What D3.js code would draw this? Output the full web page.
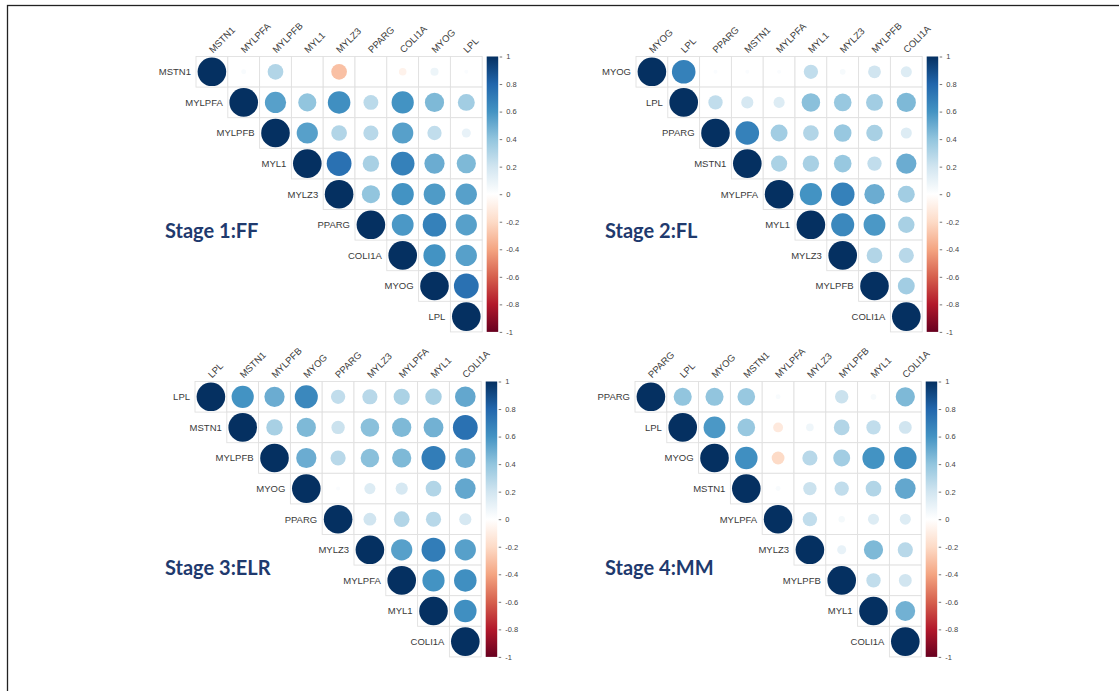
<!DOCTYPE html>
<html>
<head>
<meta charset="utf-8">
<script src="https://cdn.jsdelivr.net/npm/d3@7"></script>
<style>
  html, body { margin: 0; padding: 0; background: #ffffff; }
  svg { display: block; }
</style>
</head>
<body>
<svg id="chart" width="1119" height="691"></svg>
<script>
// Gene orders per stage (hierarchical-clustering order of each corrplot)
const stage1Genes = ["MSTN1", "MYLPFA", "MYLPFB", "MYL1", "MYLZ3", "PPARG", "COLI1A", "MYOG", "LPL"];
const stage2Genes = ["MYOG", "LPL", "PPARG", "MSTN1", "MYLPFA", "MYL1", "MYLZ3", "MYLPFB", "COLI1A"];
const stage3Genes = ["LPL", "MSTN1", "MYLPFB", "MYOG", "PPARG", "MYLZ3", "MYLPFA", "MYL1", "COLI1A"];
const stage4Genes = ["PPARG", "LPL", "MYOG", "MSTN1", "MYLPFA", "MYLZ3", "MYLPFB", "MYL1", "COLI1A"];

// Upper-triangle correlation rows: row i lists r(i, j) for j = i .. 8
const stage1Corr = [
  [1, 0.03, 0.30, 0.00, -0.30, 0.00, -0.07, 0.08, 0.02],
  [1, 0.55, 0.40, 0.62, 0.27, 0.60, 0.45, 0.35],
  [1, 0.55, 0.30, 0.28, 0.55, 0.25, 0.10],
  [1, 0.75, 0.33, 0.68, 0.50, 0.45],
  [1, 0.40, 0.60, 0.57, 0.55],
  [1, 0.58, 0.68, 0.55],
  [1, 0.60, 0.55],
  [1, 0.75],
  [1]
];
const stage2Corr = [
  [1, 0.68, 0.02, 0.02, 0.02, 0.25, 0.04, 0.20, 0.15],
  [1, 0.25, 0.18, 0.15, 0.42, 0.38, 0.35, 0.45],
  [1, 0.68, 0.35, 0.30, 0.38, 0.33, 0.15],
  [1, 0.32, 0.33, 0.38, 0.25, 0.50],
  [1, 0.60, 0.68, 0.50, 0.35],
  [1, 0.65, 0.58, 0.33],
  [1, 0.30, 0.28],
  [1, 0.35],
  [1]
];
const stage3Corr = [
  [1, 0.60, 0.50, 0.65, 0.25, 0.28, 0.32, 0.33, 0.52],
  [1, 0.33, 0.45, 0.22, 0.42, 0.45, 0.48, 0.75],
  [1, 0.50, 0.28, 0.42, 0.45, 0.70, 0.50],
  [1, 0.02, 0.15, 0.18, 0.30, 0.52],
  [1, 0.20, 0.30, 0.28, 0.18],
  [1, 0.55, 0.70, 0.55],
  [1, 0.60, 0.62],
  [1, 0.62],
  [1]
];
const stage4Corr = [
  [1, 0.40, 0.40, 0.38, 0.03, 0.00, 0.22, 0.04, 0.45],
  [1, 0.58, 0.38, -0.12, 0.07, 0.30, 0.25, 0.20],
  [1, 0.62, -0.20, 0.28, 0.35, 0.60, 0.62],
  [1, 0.03, 0.22, 0.25, 0.30, 0.52],
  [1, 0.25, 0.05, 0.15, 0.15],
  [1, 0.10, 0.45, 0.28],
  [1, 0.25, 0.20],
  [1, 0.48],
  [1]
];

const stageTitles = ["Stage 1:FF", "Stage 2:FL", "Stage 3:ELR", "Stage 4:MM"];
const legendTicks = [1, 0.8, 0.6, 0.4, 0.2, 0, -0.2, -0.4, -0.6, -0.8, -1];

// corrplot RdBu palette
const paletteStops = ["#67001F", "#B2182B", "#D6604D", "#F4A582", "#FDDBC7", "#FFFFFF",
                      "#D1E5F0", "#92C5DE", "#4393C3", "#2166AC", "#053061"];

const panels = [
  { genes: stage1Genes, corr: stage1Corr, title: stageTitles[0], x0: 196, y0: 56.5, tx: 165, ty: 238 },
  { genes: stage2Genes, corr: stage2Corr, title: stageTitles[1], x0: 636, y0: 56.5, tx: 605, ty: 238 },
  { genes: stage3Genes, corr: stage3Corr, title: stageTitles[2], x0: 195, y0: 381.5, tx: 165, ty: 575 },
  { genes: stage4Genes, corr: stage4Corr, title: stageTitles[3], x0: 635, y0: 381.5, tx: 605, ty: 575 }
];

const cellW = 31.8, cellH = 30.6;
const n = 9;
const labelFont = "Liberation Sans, Arial, sans-serif";

const svg = d3.select("#chart");

// outer frame (left and top edges visible)
svg.append("rect")
  .attr("x", 7.5).attr("y", 5.5)
  .attr("width", 1200).attr("height", 800)
  .attr("fill", "none").attr("stroke", "#222").attr("stroke-width", 1.3);

const color = d3.scaleLinear()
  .domain(d3.range(11).map(i => -1 + i * 0.2))
  .range(paletteStops)
  .clamp(true);

const radius = d3.scaleSqrt().domain([0, 1]).range([0, 0.45 * cellW]);

// gradient for the colour legend
const defs = svg.append("defs");
const grad = defs.append("linearGradient")
  .attr("id", "corrGrad")
  .attr("x1", 0).attr("y1", 1).attr("x2", 0).attr("y2", 0);
paletteStops.forEach((c, i) => {
  grad.append("stop").attr("offset", (i / 10)).attr("stop-color", c);
});

panels.forEach(p => {
  const g = svg.append("g");
  const x = d3.scaleBand().domain(d3.range(n)).range([p.x0, p.x0 + n * cellW]).padding(0);
  const y = d3.scaleBand().domain(d3.range(n)).range([p.y0, p.y0 + n * cellH]).padding(0);

  const cells = [];
  p.corr.forEach((row, i) => {
    row.forEach((v, k) => cells.push({ i: i, j: i + k, v: v }));
  });

  // cell grid
  g.selectAll("rect.cell").data(cells).enter().append("rect")
    .attr("class", "cell")
    .attr("x", d => x(d.j)).attr("y", d => y(d.i))
    .attr("width", cellW).attr("height", cellH)
    .attr("fill", "#ffffff")
    .attr("stroke", "#e0e0e0").attr("stroke-width", 0.9);

  // circles
  g.selectAll("circle").data(cells).enter().append("circle")
    .attr("cx", d => x(d.j) + cellW / 2)
    .attr("cy", d => y(d.i) + cellH / 2)
    .attr("r", d => radius(Math.abs(d.v)))
    .attr("fill", d => color(d.v));

  // row labels
  g.selectAll("text.row").data(p.genes).enter().append("text")
    .attr("class", "row")
    .attr("x", (d, i) => x(i) - 5)
    .attr("y", (d, i) => y(i) + cellH / 2)
    .attr("dy", "0.35em")
    .attr("text-anchor", "end")
    .attr("font-family", labelFont)
    .attr("font-size", 9.5)
    .attr("fill", "#3a3a3a")
    .text(d => d);

  // column labels (rotated 45°)
  g.selectAll("text.col").data(p.genes).enter().append("text")
    .attr("class", "col")
    .attr("transform", (d, j) => `translate(${x(j) + cellW / 2 + 1},${p.y0 - 3}) rotate(-45)`)
    .attr("text-anchor", "start")
    .attr("font-family", labelFont)
    .attr("font-size", 9.5)
    .attr("fill", "#3a3a3a")
    .text(d => d);

  // colour legend
  const barX = p.x0 + n * cellW + 4.5;
  const barW = 11.5;
  const legY = d3.scaleLinear().domain([1, -1]).range([p.y0, p.y0 + n * cellH]);
  g.append("rect")
    .attr("x", barX).attr("y", legY(1))
    .attr("width", barW).attr("height", legY(-1) - legY(1))
    .attr("fill", "url(#corrGrad)");
  const axis = d3.axisRight(legY)
    .tickValues(legendTicks)
    .tickSize(2.5)
    .tickPadding(4)
    .tickFormat(d => String(+d.toFixed(1)));
  const ax = g.append("g")
    .attr("transform", `translate(${barX + barW + 1.5},0)`)
    .call(axis);
  ax.select(".domain").remove();
  ax.selectAll(".tick line").attr("stroke", "#777");
  ax.selectAll(".tick text")
    .attr("font-family", labelFont)
    .attr("font-size", 7.5)
    .attr("fill", "#444");

  // stage title
  svg.append("text")
    .attr("x", p.tx).attr("y", p.ty)
    .attr("font-family", "Lato, 'Open Sans', sans-serif")
    .attr("font-weight", 700)
    .attr("font-size", 20)
    .attr("fill", "#1f3a6e")
    .text(p.title);
});
</script>
</body>
</html>
